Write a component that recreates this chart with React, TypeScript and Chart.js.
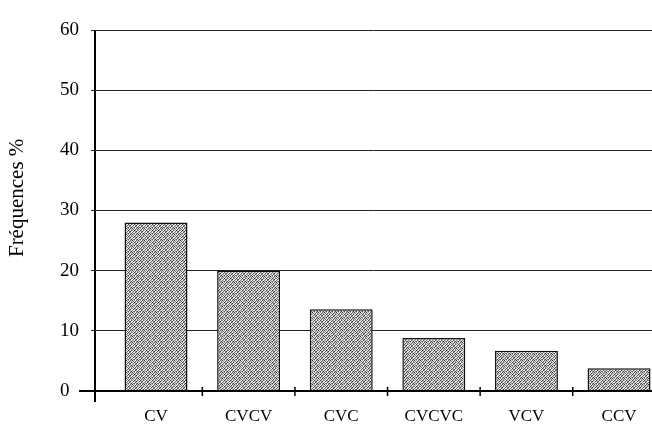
import React, { useEffect, useRef } from "react";
import { Chart, registerables } from "chart.js";

Chart.register(...registerables);

const categories = ["CV", "CVCV", "CVC", "CVCVC", "VCV", "CCV"];
const frequencies = [28, 20, 13.6, 8.8, 6.7, 3.8];
const yTicks = [0, 10, 20, 30, 40, 50, 60];
const yTitle = "Fréquences %";

const FONT = '"Liberation Serif", "Times New Roman", serif';

// fixed stipple texture for the bar fill (6x6 tile)
const STIPPLE = [
  "#303030", "#e8e8e8", "#9a9a9a", "#ffffff", "#5a5a5a", "#c8c8c8",
  "#d8d8d8", "#7a7a7a", "#f4f4f4", "#4a4a4a", "#dcdcdc", "#8a8a8a",
  "#a0a0a0", "#ffffff", "#3c3c3c", "#c0c0c0", "#f0f0f0", "#606060",
  "#f8f8f8", "#5c5c5c", "#d0d0d0", "#8c8c8c", "#2e2e2e", "#e4e4e4",
  "#6e6e6e", "#cccccc", "#ffffff", "#505050", "#b8b8b8", "#f0f0f0",
  "#e0e0e0", "#909090", "#464646", "#ececec", "#a8a8a8", "#404040",
];

function makePattern(): CanvasPattern | string {
  const c = document.createElement("canvas");
  c.width = 6;
  c.height = 6;
  const g = c.getContext("2d");
  if (!g) return "#a8a8a8";
  STIPPLE.forEach((s, i) => {
    g.fillStyle = s;
    g.fillRect(i % 6, Math.floor(i / 6), 1, 1);
  });
  return g.createPattern(c, "repeat") || "#a8a8a8";
}

const framePlugin = {
  id: "frame",
  afterDatasetsDraw(chart: any) {
    const { ctx, chartArea, scales } = chart;
    const x = scales.x;
    const y = scales.y;
    const y0 = y.getPixelForValue(0);
    ctx.save();
    ctx.strokeStyle = "#000";
    ctx.lineWidth = 2;
    ctx.beginPath();
    ctx.moveTo(chartArea.left - 16, y0);
    ctx.lineTo(chartArea.right, y0);
    ctx.stroke();
    ctx.beginPath();
    ctx.moveTo(chartArea.left, chartArea.top);
    ctx.lineTo(chartArea.left, y0 + 11);
    ctx.stroke();
    ctx.lineWidth = 1.5;
    for (let i = 0; i < categories.length - 1; i++) {
      const px = x.getPixelForValue(i + 0.5);
      ctx.beginPath();
      ctx.moveTo(px, y0 - 4);
      ctx.lineTo(px, y0 + 5);
      ctx.stroke();
    }
    ctx.restore();
  },
  afterDraw(chart: any) {
    const { ctx, chartArea } = chart;
    ctx.save();
    ctx.font = `21px ${FONT}`;
    ctx.fillStyle = "#000";
    ctx.textAlign = "center";
    ctx.textBaseline = "middle";
    ctx.translate(17, chartArea.top + (chartArea.bottom - chartArea.top) * 0.465);
    ctx.rotate(-Math.PI / 2);
    ctx.fillText(yTitle, 0, 0);
    ctx.restore();
  },
};

export default function App() {
  const ref = useRef<HTMLCanvasElement>(null);

  useEffect(() => {
    if (!ref.current) return;
    const pattern = makePattern();
    const chart = new Chart(ref.current, {
      type: "bar",
      data: {
        datasets: [
          {
            data: frequencies.map((v, i) => ({ x: i, y: v })),
            backgroundColor: pattern as any,
            borderColor: "#111",
            borderWidth: 1.5,
            barPercentage: 0.68,
            categoryPercentage: 1,
          },
        ],
      },
      options: {
        animation: false,
        responsive: false,
        maintainAspectRatio: false,
        layout: { padding: { top: 30, right: 0, bottom: 0, left: 60 } },
        plugins: {
          legend: { display: false },
          tooltip: { enabled: false },
        },
        scales: {
          x: {
            type: "linear",
            offset: false,
            min: -0.659,
            max: 5.356,
            afterBuildTicks: (scale: any) => {
              scale.ticks = categories.map((_, i) => ({ value: i }));
            },
            afterFit: (scale: any) => {
              scale.height = 33;
            },
            grid: { display: false, drawTicks: false, offset: false },
            border: { display: false },
            ticks: {
              autoSkip: false,
              maxRotation: 0,
              padding: 15,
              color: "#000",
              font: { family: FONT, size: 17 },
              callback: (v: any) => categories[v as number] ?? "",
            },
          },
          y: {
            min: 0,
            max: 60,
            afterBuildTicks: (scale: any) => {
              scale.ticks = yTicks.map((v) => ({ value: v }));
            },
            afterFit: (scale: any) => {
              scale.width = 35;
            },
            grid: {
              color: "#222",
              lineWidth: 1,
              drawTicks: true,
              tickLength: 4,
            },
            border: { display: false },
            ticks: {
              crossAlign: "far",
              padding: 8,
              color: "#000",
              font: { family: FONT, size: 19 },
            },
          },
        },
      },
      plugins: [framePlugin],
    });
    return () => chart.destroy();
  }, []);

  return (
    <div
      style={{
        position: "fixed",
        left: 0,
        top: 0,
        width: 652,
        height: 424,
        overflow: "hidden",
        background: "#fff",
      }}
    >
      <canvas ref={ref} width={652} height={424} style={{ display: "block" }} />
    </div>
  );
}
